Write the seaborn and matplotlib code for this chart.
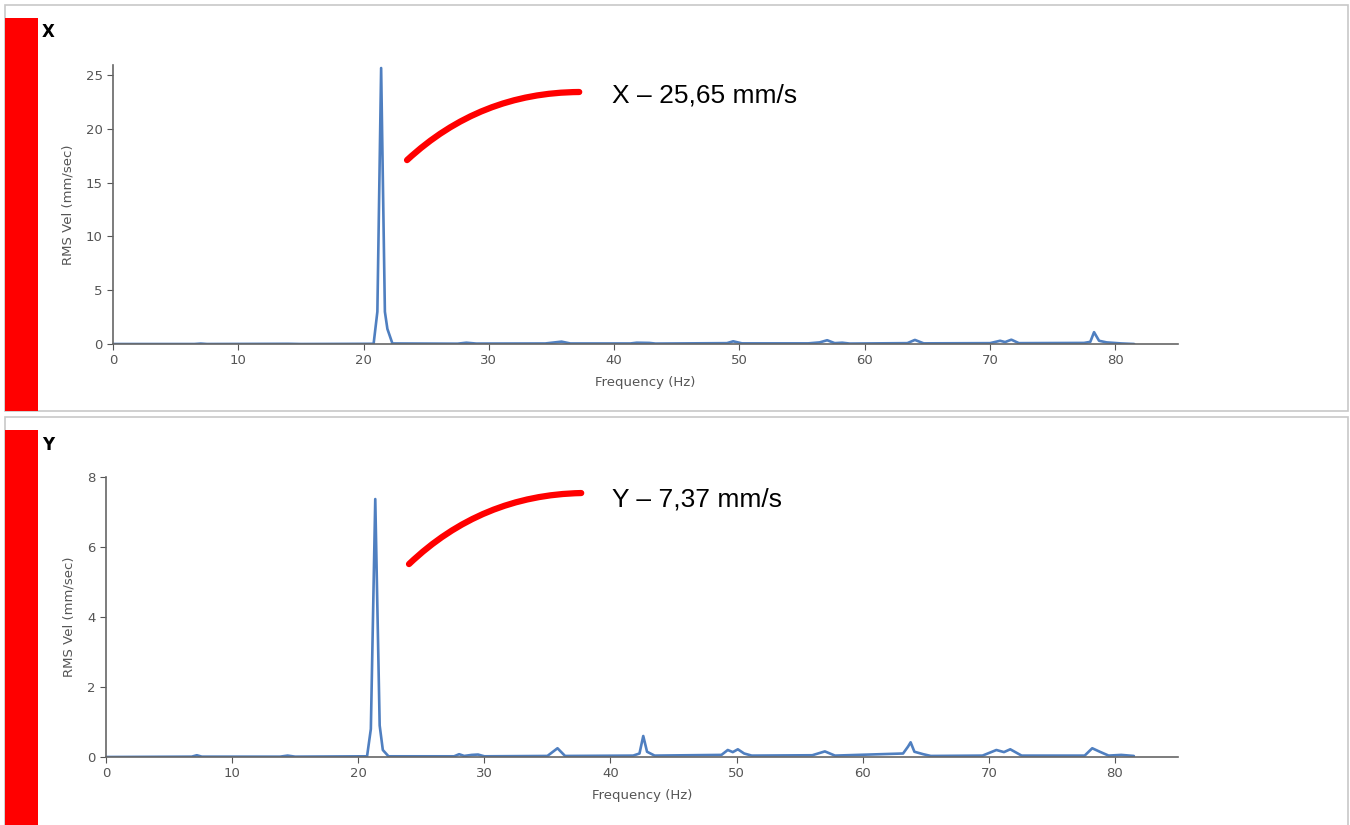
'''Vibration spectrum, X and Y axis (RMS velocity).'''
import pandas as pd
import matplotlib.pyplot as plt
import seaborn as sns
from matplotlib.patches import Rectangle, FancyArrowPatch

sns.set_style('white')
plt.rcParams['font.family'] = ['DejaVu Sans']

# X direction spectrum (frequency Hz, RMS vel mm/s)
x_freq = [0, 6.5, 7, 7.5, 14, 15, 20.8, 21.1, 21.4, 21.7, 21.9, 22.3, 27.5, 28.2, 29,
          34.5, 35.8, 36.5, 41.3, 41.8, 42.8, 43.3, 49, 49.5, 50.2, 55.5, 56.4, 57, 57.6,
          58.2, 58.8, 63.4, 64, 64.7, 70, 70.8, 71.2, 71.7, 72.3, 77.5, 78, 78.3, 78.7,
          79.3, 80.5, 81.5]
x_amp = [0, 0, 0.04, 0, 0.02, 0, 0.02, 3.0, 25.65, 3.0, 1.4, 0.05, 0.03, 0.12, 0.04,
         0.05, 0.22, 0.05, 0.05, 0.12, 0.1, 0.04, 0.08, 0.25, 0.06, 0.06, 0.15, 0.35, 0.08,
         0.12, 0.04, 0.08, 0.38, 0.06, 0.08, 0.3, 0.18, 0.4, 0.08, 0.1, 0.2, 1.1, 0.3,
         0.15, 0.05, 0.0]

# Y direction spectrum
y_freq = [0, 6.8, 7.2, 7.6, 13.8, 14.4, 15, 20.7, 21.0, 21.35, 21.7, 21.95, 22.4, 27.6,
          28, 28.4, 29, 29.5, 30, 35, 35.8, 36.4, 41.8, 42.3, 42.6, 42.9, 43.5, 48.8, 49.3,
          49.7, 50.1, 50.6, 51.2, 56, 57, 57.8, 63.2, 63.6, 63.8, 64.1, 64.8, 65.4, 69.5,
          70.6, 71.2, 71.7, 72.6, 77.6, 78.2, 78.8, 79.5, 80.5, 81.5]
y_amp = [0, 0.01, 0.05, 0.01, 0.01, 0.04, 0.01, 0.02, 0.8, 7.37, 0.9, 0.2, 0.02, 0.02,
         0.08, 0.03, 0.06, 0.07, 0.02, 0.03, 0.25, 0.03, 0.04, 0.1, 0.6, 0.15, 0.04, 0.06,
         0.2, 0.14, 0.22, 0.1, 0.04, 0.05, 0.16, 0.04, 0.1, 0.3, 0.42, 0.15, 0.08, 0.03, 0.04,
         0.2, 0.14, 0.22, 0.04, 0.04, 0.25, 0.15, 0.04, 0.06, 0.03]

x_label_txt = 'X – 25,65 mm/s'
y_label_txt = 'Y – 7,37 mm/s'
xticks = [0, 10, 20, 30, 40, 50, 60, 70, 80]

W, H = 1350, 825
fig = plt.figure(figsize=(13.5, 8.25), dpi=100)

def fx(px):
    return px / W

def fy(py):
    return 1 - py / H

# panel frames and red side bars
for top, bot, red_top in [(5, 411, 18), (417, 830, 430)]:
    fig.patches.append(Rectangle((fx(5), fy(bot)), fx(1343), (bot - top) / H,
                                 transform=fig.transFigure, fill=False,
                                 edgecolor='#c8c8c8', lw=1.2))
    fig.patches.append(Rectangle((fx(5), fy(bot)), fx(33), (bot - red_top) / H,
                                 transform=fig.transFigure, color='#ff0000', lw=0))

ax1 = fig.add_axes([fx(113), fy(344), fx(1178 - 113), (344 - 65) / H])
ax2 = fig.add_axes([fx(106), fy(757), fx(1178 - 106), (757 - 477) / H])

df1 = pd.DataFrame({'freq': x_freq, 'amp': x_amp})
df2 = pd.DataFrame({'freq': y_freq, 'amp': y_amp})

specs = [(ax1, df1, 25.93, [0, 5, 10, 15, 20, 25]),
         (ax2, df2, 8.0, [0, 2, 4, 6, 8])]
for ax, df, ytop, yticks in specs:
    sns.lineplot(data=df, x='freq', y='amp', ax=ax, color='#4f7fc0', lw=1.9)
    ax.set_xlim(0, 85)
    ax.set_ylim(0, ytop)
    ax.set_xticks(xticks)
    ax.set_yticks(yticks)
    ax.set_xlabel('Frequency (Hz)', color='#555555', fontsize=9.5, labelpad=6)
    ax.set_ylabel('RMS Vel (mm/sec)', color='#555555', fontsize=9.5, labelpad=8)
    for s in ['top', 'right']:
        ax.spines[s].set_visible(False)
    for s in ['left', 'bottom']:
        ax.spines[s].set_color('#666666')
        ax.spines[s].set_linewidth(1.2)
    ax.tick_params(axis='both', colors='#555555', labelsize=9.5, length=4,
                   direction='out', left=True, bottom=True)
    ax.patch.set_alpha(0)

# panel titles
fig.text(fx(42), fy(32), 'X', fontsize=12, fontweight='black', va='center', ha='left',
         color='black')
fig.text(fx(42), fy(445), 'Y', fontsize=12, fontweight='black', va='center', ha='left',
         color='black')

# red callout curves and value text
for (x0, y0), (x1, y1), txt, ty in [((405, 162), (582, 92), x_label_txt, 96),
                                     ((407, 566), (584, 493), y_label_txt, 500)]:
    curve = FancyArrowPatch((fx(x0), fy(y0)), (fx(x1), fy(y1)),
                            transform=fig.transFigure, arrowstyle='-',
                            connectionstyle='arc3,rad=-0.2', color='#ff0000',
                            lw=4.5, capstyle='round')
    fig.patches.append(curve)
    fig.text(fx(612), fy(ty), txt, fontsize=19, va='center', ha='left', color='black',
             family=['Liberation Sans', 'DejaVu Sans'])

plt.savefig('out.png', dpi=100)
